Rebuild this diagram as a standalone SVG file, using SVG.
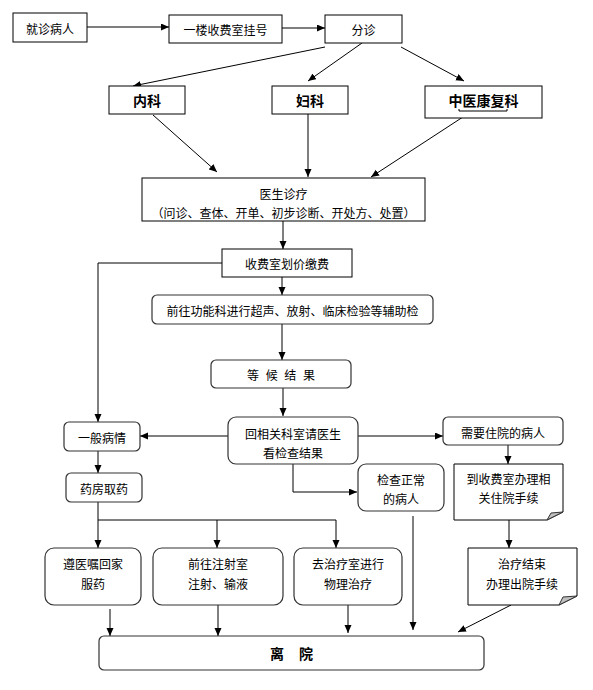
<svg xmlns="http://www.w3.org/2000/svg" width="593" height="690" viewBox="0 0 593 690">
<style>
text{font-family:"Noto Sans CJK SC","Noto Sans",sans-serif;font-size:12px;fill:#000;text-anchor:middle;dominant-baseline:central}
.b{font-weight:bold;font-size:14px}
.box{fill:#fff;stroke:#000;stroke-width:1}
.rbox{fill:#fff;stroke:#333;stroke-width:1.2}
.ln{fill:none;stroke:#000;stroke-width:1}
.gl{fill:none;stroke:#7f7f7f;stroke-width:2}
.fold{fill:#c0c0c0;stroke:#333;stroke-width:1}
</style>
<defs>
<marker id="ah" markerUnits="userSpaceOnUse" markerWidth="8" markerHeight="8" refX="8" refY="3.5" orient="auto">
<path d="M0,0 L8,3.5 L0,7 z" fill="#000"/>
</marker>
</defs>
<rect width="593" height="690" fill="#fff"/>
<g id="connectors">
<path class="gl" d="M87,27 H169" marker-end="url(#ah)"/>
<path class="gl" d="M282,28 H325" marker-end="url(#ah)"/>
<path class="ln" d="M325,47 L133,86" marker-end="url(#ah)"/>
<path class="ln" d="M362,43 L308,81" marker-end="url(#ah)"/>
<path class="ln" d="M401,47 L464,81" marker-end="url(#ah)"/>
<path class="ln" d="M153,115 L217,172" marker-end="url(#ah)"/>
<path class="gl" d="M308,114 V177" marker-end="url(#ah)"/>
<path class="ln" d="M466,115 L371,177" marker-end="url(#ah)"/>
<path class="ln" d="M283,221 V249" stroke="#555" marker-end="url(#ah)"/>
<path class="ln" d="M222,263 H98 V422" marker-end="url(#ah)"/>
<path class="ln" d="M282,277 V295" marker-end="url(#ah)"/>
<path class="ln" d="M282,324 V360" marker-end="url(#ah)"/>
<path class="ln" d="M283,388 V416" marker-end="url(#ah)"/>
<path class="ln" d="M228,436 H140" marker-end="url(#ah)"/>
<path class="ln" d="M358,436 H443" marker-end="url(#ah)"/>
<path class="ln" d="M293,464 V492 H357" marker-end="url(#ah)"/>
<path class="ln" d="M98,451 V473" marker-end="url(#ah)"/>
<path class="ln" d="M98,502 V520 H336"/>
<path class="ln" d="M98,520 V548" marker-end="url(#ah)"/>
<path class="ln" d="M217,520 V548" marker-end="url(#ah)"/>
<path class="ln" d="M336,520 V548" marker-end="url(#ah)"/>
<path class="ln" d="M508,445 V464" marker-end="url(#ah)"/>
<path class="ln" d="M509,520 V548" marker-end="url(#ah)"/>
<path class="ln" d="M110,609 V636" marker-end="url(#ah)"/>
<path class="ln" d="M218,605 V636" marker-end="url(#ah)"/>
<path class="ln" d="M348,605 V633" marker-end="url(#ah)"/>
<path class="ln" d="M413,516 V630" marker-end="url(#ah)"/>
<path class="ln" d="M511,605 L458,632" marker-end="url(#ah)"/>
</g>
<g id="n1"><rect class="box" x="13" y="13" width="74" height="29"/><text x="50" y="28">就诊病人</text></g>
<g id="n2"><rect class="box" x="169" y="15" width="113" height="28"/><text x="225.5" y="29">一楼收费室挂号</text></g>
<g id="n3"><rect class="box" x="325" y="15" width="77" height="28"/><text x="363.5" y="29">分诊</text></g>
<g id="n4"><rect class="box" x="109" y="86" width="76" height="28"/><text class="b" x="147" y="100">内科</text></g>
<g id="n5"><rect class="box" x="272" y="86" width="76" height="28"/><text class="b" x="310" y="100">妇科</text></g>
<g id="n6"><rect class="box" x="425" y="86" width="117" height="32"/><text class="b" x="483.5" y="100">中医康复科</text><path class="ln" d="M459,109 V111 H507 V109"/></g>
<g id="n7"><rect class="box" x="142" y="178" width="283" height="43"/><text x="283.5" y="193">医生诊疗</text><text x="283.5" y="212">（问诊、查体、开单、初步诊断、开处方、处置）</text></g>
<g id="n8"><rect class="box" x="222" y="249" width="130" height="28"/><text x="287" y="263">收费室划价缴费</text></g>
<g id="n9"><rect class="rbox" x="152" y="295" width="281" height="29" rx="5"/><text x="292.5" y="310">前往功能科进行超声、放射、临床检验等辅助检</text></g>
<g id="n10"><rect class="rbox" x="211" y="360" width="140" height="28" rx="5"/><text x="281" y="374" xml:space="preserve" word-spacing="4">等 候 结 果</text></g>
<g id="n11"><rect class="rbox" x="228" y="417" width="130" height="47" rx="8"/><text x="293" y="433">回相关科室请医生</text><text x="293" y="452">看检查结果</text></g>
<g id="n12"><rect class="rbox" x="64" y="422" width="76" height="29" rx="5"/><text x="102" y="437">一般病情</text></g>
<g id="n13"><rect class="rbox" x="66" y="473" width="76" height="29" rx="5"/><text x="104" y="488">药房取药</text></g>
<g id="n14"><rect class="rbox" x="443" y="417" width="120" height="28" rx="5"/><text x="503" y="432">需要住院的病人</text></g>
<g id="n15"><path class="box" d="M454,464 H563 V512 L547,520 H454 Z"/><path class="fold" d="M547,520 L551,513 L563,512 Z"/><text x="508.5" y="478">到收费室办理相</text><text x="508.5" y="497">关住院手续</text></g>
<g id="n16"><rect class="rbox" x="358" y="464" width="86" height="47" rx="8"/><text x="401" y="479">检查正常</text><text x="401" y="498">的病人</text></g>
<g id="n17"><rect class="rbox" x="45" y="548" width="96" height="57" rx="9"/><text x="93" y="563">遵医嘱回家</text><text x="93" y="583">服药</text></g>
<g id="n18"><rect class="rbox" x="153" y="548" width="130" height="57" rx="9"/><text x="218" y="563">前往注射室</text><text x="218" y="583">注射、输液</text></g>
<g id="n19"><rect class="rbox" x="294" y="548" width="108" height="57" rx="9"/><text x="348" y="563">去治疗室进行</text><text x="348" y="583">物理治疗</text></g>
<g id="n20"><path class="box" d="M468,548 H577 V596 L559,605 H468 Z"/><path class="fold" d="M559,605 L563,597 L577,596 Z"/><text x="522" y="563">治疗结束</text><text x="522" y="583">办理出院手续</text></g>
<g id="n21"><rect class="rbox" x="99" y="636" width="385" height="34" rx="5"/><text class="b" x="291.5" y="653" font-size="13" xml:space="preserve" word-spacing="12">离 院</text></g>
</svg>
